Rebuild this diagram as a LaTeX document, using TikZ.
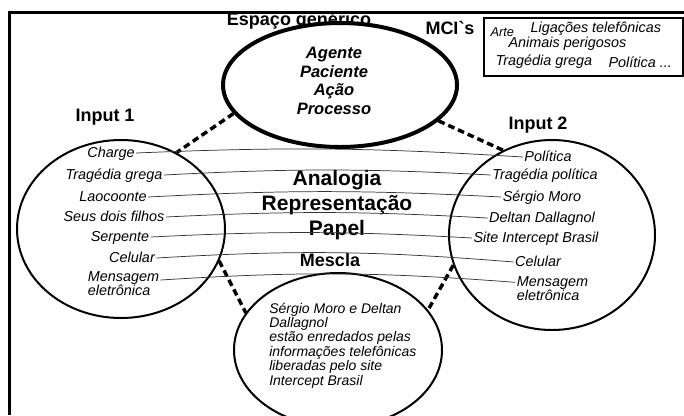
\documentclass[tikz,border=0pt]{standalone}
\usepackage{fontspec}
\setmainfont{Liberation Sans}
\usetikzlibrary{shapes.geometric}
\usetikzlibrary{positioning}
\tikzset{
    space/.style={
           ellipse,
           draw=black, line width=1.5pt,
           fill=white,
           inner sep=0pt,
           },
    itext/.style={font=\fontsize{10.8}{10.5}\selectfont\itshape, inner sep=1pt},
    lbl/.style={itext, text height=1.6ex, text depth=.45ex},
    head/.style={font=\fontsize{13.5}{16}\selectfont\bfseries, inner sep=0pt},
    link/.style={line width=2.6pt, dash pattern=on 5pt off 3pt},
    thread/.style={line width=.55pt, black!80},
}

\begin{document}
\begin{tikzpicture}[x=0.75pt,y=-0.75pt]
        \useasboundingbox (0,0) rectangle (684,415);

        % frame round the figure (only left and top are seen)
        \draw[line width=2.25pt] (9,415) -- (9,12) -- (684,12);

        % GENERIC SPACE
        % title first, the white ellipse hides part of it
        \node[head] (T_GEN) at (299,21) {Espaço genérico};
        \node[space,
            line width=3pt,
            minimum width=175.5pt,
            minimum height=93pt] (E_GEN) at (340,85) {};
        \node[font=\fontsize{12.4}{13.9}\selectfont\bfseries\itshape,
            align=center] (T_ROLES) at (334,81)
        {Agente\\Paciente\\Ação\\Processo};

        % MCIs and their box
        \node[head] (T_MCI) at (450,28) {MCI\textasciigrave s};
        \node[draw, line width=1.5pt,
            minimum width=149.25pt,
            minimum height=43.5pt,
            inner sep=0pt] (B_MCI) at (583.5,47) {};
        \node[itext, font=\fontsize{9.6}{10}\selectfont\itshape, anchor=west] (M_ART) at (489,32) {Arte};
        \node[itext, anchor=west] (M_PHONE) at (529,29) {Ligações telefônicas};
        \node[itext, anchor=west] (M_ANIM) at (507,44) {Animais perigosos};
        \node[itext, anchor=west] (M_TRAG) at (494,62) {Tragédia grega};
        \node[itext, anchor=west] (M_POL) at (607,62) {Política ...};

        % INPUT 1
        \node[head] (T_IN1) at (105,117) {Input 1};
        \node[space,
            minimum width=156pt,
            minimum height=133.5pt] (E_IN1) at (121,229) {};

        % INPUT 2
        \node[head] (T_IN2) at (538,125) {Input 2};
        \node[space,
            minimum width=154.5pt,
            minimum height=142.5pt] (E_IN2) at (552,235) {};

        % BLEND
        \node[space,
            minimum width=156pt,
            minimum height=115.5pt] (E_MIX) at (338,350) {};
        \node[font=\fontsize{10.5}{9.75}\selectfont\itshape,
            align=left, anchor=west, inner sep=0pt] (T_BLEND) at (269,345.5)
        {Sérgio Moro e Deltan\\Dallagnol\\estão enredados pelas\\informações telefônicas\\liberadas pelo site\\Intercept Brasil};

        % dashed links between the spaces
        \draw[link] (E_GEN.195) -- (E_IN1.54);
        \draw[link] (E_GEN.340) -- (E_IN2.120);
        \draw[link] (E_IN1.342) -- (E_MIX.158);
        \draw[link] (E_IN2.197) -- (E_MIX.24);

        % texts in the middle
        \node[font=\fontsize{15.75}{18.75}\selectfont\bfseries,
            align=center] (T_ANALOGY) at (337,205)
        {Analogia\\Representação\\Papel};
        \node[head] (T_MIX) at (330,260) {Mescla};

        % elements of input 1
        \node[lbl] (L_CHARGE) at (111,153) {Charge};
        \node[lbl, below of=L_CHARGE, node distance=16.5pt, xshift=2.25pt] (L_TRAG) {Tragédia grega};
        \node[lbl, below of=L_TRAG, node distance=16.5pt, xshift=-0.75pt] (L_LAO) {Laocoonte};
        \node[lbl, below of=L_LAO, node distance=15pt, xshift=0.75pt] (L_SONS) {Seus dois filhos};
        \node[lbl, below of=L_SONS, node distance=15pt, xshift=4.5pt] (L_SERP) {Serpente};
        \node[lbl, below of=L_SERP, node distance=15.75pt, xshift=9pt] (L_CELL) {Celular};
        \node[itext, align=left, below of=L_CELL, node distance=19.5pt, xshift=-6.4pt] (L_MSG) {Mensagem\\eletrônica};

        % elements of input 2
        \node[lbl] (R_POL) at (548,157) {Política};
        \node[lbl, below of=R_POL, node distance=13.5pt, xshift=-2.25pt] (R_TPOL) {Tragédia política};
        \node[lbl, below of=R_TPOL, node distance=16.5pt, xshift=-2.25pt] (R_MORO) {Sérgio Moro};
        \node[lbl, below of=R_MORO, node distance=15.75pt] (R_DELT) {Deltan Dallagnol};
        \node[lbl, below of=R_DELT, node distance=15pt, xshift=-4.5pt] (R_SITE) {Site Intercept Brasil};
        \node[lbl, below of=R_SITE, node distance=18pt, xshift=1.5pt] (R_CELL) {Celular};
        \node[itext, align=left, below of=R_CELL, node distance=20.25pt, xshift=10.9pt] (R_MSG) {Mensagem\\eletrônica};

        % mappings between the inputs
        \path
            (L_CHARGE.east) edge[thread, bend left=3] (R_POL.west)
            (L_TRAG.east)   edge[thread, bend left=3] (R_TPOL.west)
            (L_LAO.east)    edge[thread, bend left=3] (R_MORO.west)
            (L_SONS.east)   edge[thread, bend left=3] (R_DELT.west)
            (L_SERP.east)   edge[thread, bend left=3] (R_SITE.west)
            (L_CELL.east)   edge[thread, bend left=4] (R_CELL.west)
            ([yshift=3pt]L_MSG.east) edge[thread, bend left=4] ([yshift=5pt]R_MSG.west)
            ;

\end{tikzpicture}
\end{document}
